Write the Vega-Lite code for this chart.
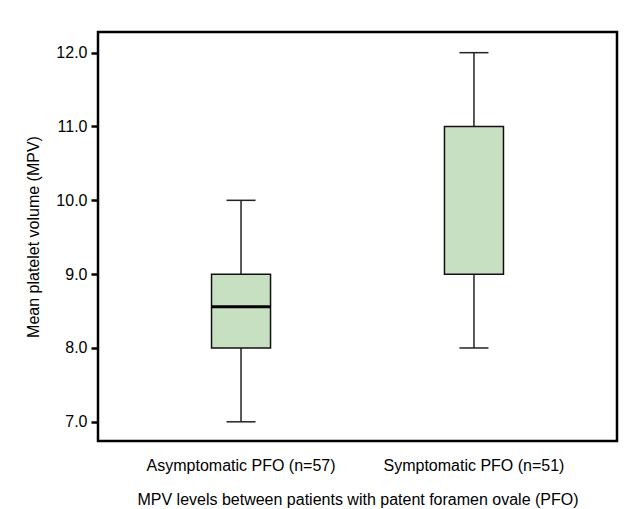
{
  "$schema": "https://vega.github.io/schema/vega-lite/v6.json",
  "width": 519,
  "height": 409,
  "autosize": {"type": "none"},
  "padding": {"left": 98, "top": 32, "right": 10, "bottom": 68},
  "background": "white",
  "config": {
    "font": "Liberation Sans",
    "view": {"stroke": "black", "strokeWidth": 2.5},
    "axis": {"labelFont": "Liberation Sans", "titleFont": "Liberation Sans", "labelColor": "black", "titleColor": "black", "titleFontWeight": "normal", "grid": false, "domain": false, "labelLimit": 0}
  },
  "data": {
    "values": [
      {"group": "Asymptomatic PFO (n=57)", "lower": 7.0, "q1": 8.0, "median": 8.56, "q3": 9.0, "upper": 10.0},
      {"group": "Symptomatic PFO (n=51)", "lower": 8.0, "q1": 9.0, "median": null, "q3": 11.0, "upper": 12.0}
    ]
  },
  "encoding": {
    "x": {
      "field": "group",
      "type": "nominal",
      "sort": null,
      "scale": {"paddingInner": 0, "paddingOuter": 0.114},
      "axis": {"title": "MPV levels between patients with patent foramen ovale (PFO)", "labelAngle": 0, "ticks": false, "labelFontSize": 16, "labelPadding": 16, "titleFontSize": 16, "titlePadding": 18}
    }
  },
  "layer": [
    {
      "mark": {"type": "rule", "color": "#222222", "strokeWidth": 1.5},
      "encoding": {
        "y": {"field": "lower", "type": "quantitative", "scale": {"domain": [6.74, 12.28], "nice": false, "zero": false},
          "axis": {"title": "Mean platelet volume (MPV)", "values": [7, 8, 9, 10, 11, 12], "format": ".1f", "tickSize": 7, "tickWidth": 2.5, "tickColor": "black", "labelFontSize": 16, "labelPadding": 4, "titleFontSize": 16, "titlePadding": 14}},
        "y2": {"field": "upper"}
      }
    },
    {
      "mark": {"type": "tick", "color": "#222222", "opacity": 1, "thickness": 1.5, "size": 29},
      "encoding": {"y": {"field": "lower", "type": "quantitative"}}
    },
    {
      "mark": {"type": "tick", "color": "#222222", "opacity": 1, "thickness": 1.5, "size": 29},
      "encoding": {"y": {"field": "upper", "type": "quantitative"}}
    },
    {
      "mark": {"type": "bar", "size": 59, "fill": "#c8e0c2", "stroke": "#111111", "strokeWidth": 1.5, "opacity": 1},
      "encoding": {"y": {"field": "q1", "type": "quantitative"}, "y2": {"field": "q3"}}
    },
    {
      "mark": {"type": "tick", "color": "black", "opacity": 1, "thickness": 3, "size": 59},
      "encoding": {"y": {"field": "median", "type": "quantitative"}}
    }
  ]
}
